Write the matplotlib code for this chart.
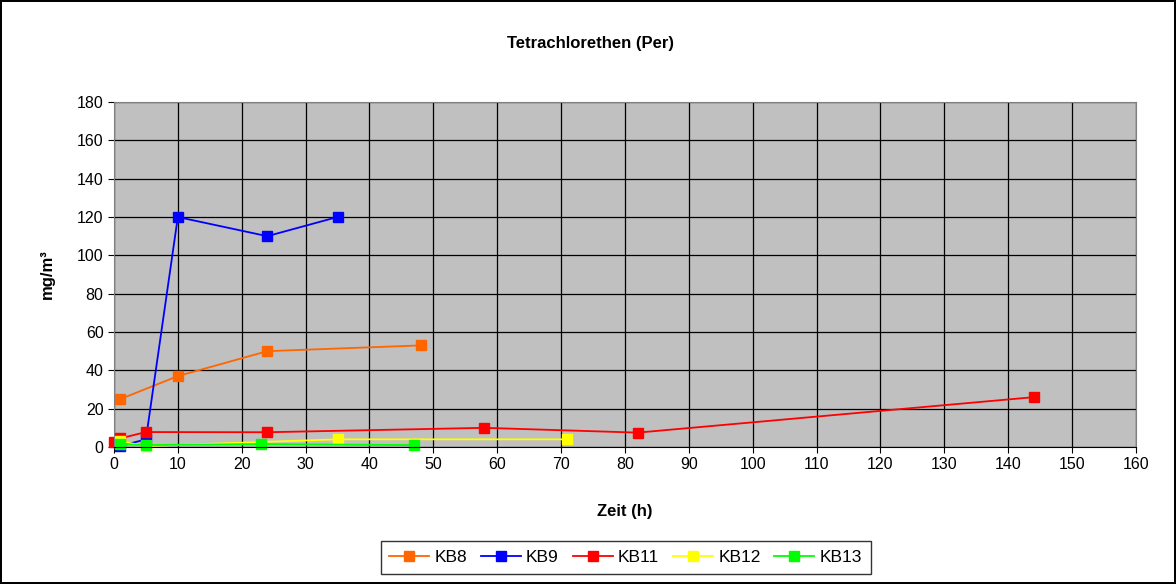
import numpy as np
import matplotlib.pyplot as plt

plt.rcParams['font.family'] = ['Liberation Sans', 'DejaVu Sans']

# Messwerte (Zeit in h, Konzentration in mg/m³)
kb8_t = [1, 10, 24, 48]
kb8_c = [25, 37, 50, 53]
kb9_t = [1, 5, 10, 24, 35]
kb9_c = [0.5, 4, 120, 110, 120]
kb11_t = [0, 1, 5, 24, 58, 82, 144]
kb11_c = [2.5, 4.5, 7.8, 7.7, 10, 7.5, 26]
kb12_t = [1, 5, 35, 71]
kb12_c = [3, 0.5, 4, 4]
kb13_t = [1, 5, 23, 47]
kb13_c = [1.5, 1, 1.5, 1]

series = [("KB8", kb8_t, kb8_c, "#FF6600"),
          ("KB9", kb9_t, kb9_c, "#0000FF"),
          ("KB11", kb11_t, kb11_c, "#FF0000"),
          ("KB12", kb12_t, kb12_c, "#FFFF00"),
          ("KB13", kb13_t, kb13_c, "#00FF00")]

fig = plt.figure(figsize=(11.76, 5.84), dpi=100)
fig.patch.set_edgecolor("black")
fig.patch.set_linewidth(1.5)
ax = fig.add_axes([0.0969, 0.2346, 0.8690, 0.5907])
ax.set_facecolor("#C0C0C0")

for name, t, c, col in series:
    ax.plot(t, c, color=col, marker="s", markersize=7, lw=1.3, label=name, clip_on=False)

ax.set_xlim(0, 160)
ax.set_ylim(0, 180)
ax.set_xticks(np.arange(0, 161, 10))
ax.set_yticks(np.arange(0, 181, 20))
ax.grid(True, color="black", lw=0.9)
ax.set_axisbelow(True)
for s in ax.spines.values():
    s.set_color("#808080")
ax.spines["bottom"].set_color("black")
ax.tick_params(labelsize=11.5, length=4, direction="out")

fig.text(0.502, 0.925, "Tetrachlorethen (Per)", fontsize=12, fontweight="bold",
         ha="center", va="center")
ax.set_xlabel("Zeit (h)", fontsize=12, fontweight="bold", labelpad=23)
ax.set_ylabel("mg/m³", fontsize=12, fontweight="bold", labelpad=16)

leg = fig.legend(loc="lower center", bbox_to_anchor=(0.532, 0.003), ncol=5, fontsize=12.5,
                 frameon=True, fancybox=False, edgecolor="black", handlelength=2.3,
                 handletextpad=0.3, columnspacing=0.8, borderpad=0.5)
leg.get_frame().set_linewidth(1)

fig.savefig("out.png", dpi=100, edgecolor=fig.get_edgecolor())
